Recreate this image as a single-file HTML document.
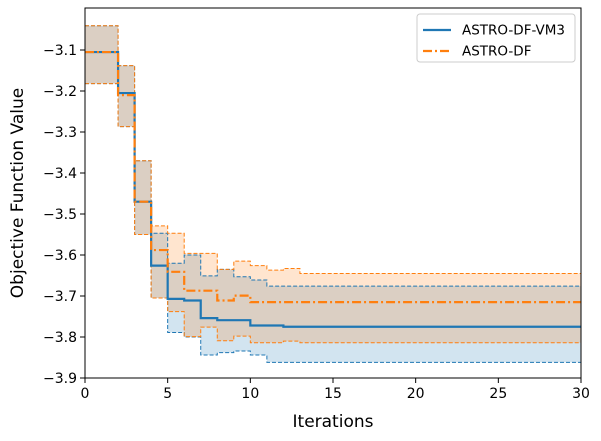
<!DOCTYPE html>
<html><head><meta charset="utf-8">
<style>
html,body{margin:0;padding:0;background:#fff;}
svg{display:block;font-family:"DejaVu Sans","Liberation Sans",sans-serif;}
</style></head>
<body>
<svg id="chart" width="601" height="441"></svg>
<script>
const iterations = Array.from({length:31},(_,i)=>i);
const blueMean  = [-3.105,-3.105,-3.205,-3.47,-3.626,-3.707,-3.711,-3.754,-3.759,-3.759,-3.772,-3.772,-3.775,-3.775,-3.775,-3.775,-3.775,-3.775,-3.775,-3.775,-3.775,-3.775,-3.775,-3.775,-3.775,-3.775,-3.775,-3.775,-3.775,-3.775];
const orangeMean= [-3.105,-3.105,-3.21,-3.47,-3.588,-3.641,-3.687,-3.687,-3.711,-3.699,-3.715,-3.715,-3.715,-3.715,-3.715,-3.715,-3.715,-3.715,-3.715,-3.715,-3.715,-3.715,-3.715,-3.715,-3.715,-3.715,-3.715,-3.715,-3.715,-3.715];
const blueUp    = [-3.041,-3.041,-3.138,-3.37,-3.547,-3.62,-3.60,-3.651,-3.635,-3.653,-3.661,-3.676,-3.676,-3.676,-3.676,-3.676,-3.676,-3.676,-3.676,-3.676,-3.676,-3.676,-3.676,-3.676,-3.676,-3.676,-3.676,-3.676,-3.676,-3.676];
const blueLow   = [-3.182,-3.182,-3.287,-3.55,-3.705,-3.789,-3.80,-3.844,-3.838,-3.834,-3.844,-3.862,-3.862,-3.862,-3.862,-3.862,-3.862,-3.862,-3.862,-3.862,-3.862,-3.862,-3.862,-3.862,-3.862,-3.862,-3.862,-3.862,-3.862,-3.862];
const orangeUp  = [-3.041,-3.041,-3.138,-3.37,-3.529,-3.547,-3.596,-3.596,-3.635,-3.615,-3.626,-3.637,-3.633,-3.645,-3.645,-3.645,-3.645,-3.645,-3.645,-3.645,-3.645,-3.645,-3.645,-3.645,-3.645,-3.645,-3.645,-3.645,-3.645,-3.645];
const orangeLow = [-3.182,-3.182,-3.287,-3.55,-3.705,-3.738,-3.799,-3.776,-3.809,-3.798,-3.814,-3.814,-3.810,-3.814,-3.814,-3.814,-3.814,-3.814,-3.814,-3.814,-3.814,-3.814,-3.814,-3.814,-3.814,-3.814,-3.814,-3.814,-3.814,-3.814];
const xTicks = [0,5,10,15,20,25,30];
const yTicks = [-3.1,-3.2,-3.3,-3.4,-3.5,-3.6,-3.7,-3.8,-3.9];

const L=85,R=581,T=8,B=378;
const X0=0,X1=30,Yref=-3.1;
function sx(v){return L+(v-X0)/(X1-X0)*(R-L);}
function sy(v){return 50+(Yref-v)/0.1*41;}
const NS="http://www.w3.org/2000/svg";
const svg=document.getElementById('chart');
function el(tag,attrs,parent){const e=document.createElementNS(NS,tag);for(const k in attrs)e.setAttribute(k,attrs[k]);(parent||svg).appendChild(e);return e;}

function stepPts(arr){let p=[];for(let i=0;i<arr.length;i++){p.push([sx(iterations[i]),sy(arr[i])]);p.push([sx(iterations[i+1]),sy(arr[i])]);}return p;}
function pathOf(pts){return 'M'+pts.map(p=>p[0].toFixed(2)+','+p[1].toFixed(2)).join('L');}
function bandPath(up,low){const a=stepPts(up),b=stepPts(low).reverse();return pathOf(a.concat(b))+'Z';}

const clip=el('clipPath',{id:'pc'});el('rect',{x:L,y:T,width:R-L,height:B-T},clip);
const g=el('g',{'clip-path':'url(#pc)'});

const bb=el('path',{d:bandPath(blueUp,blueLow),fill:'rgba(31,119,180,0.2)',stroke:'none'},g);


const ob=el('path',{d:bandPath(orangeUp,orangeLow),fill:'rgba(255,127,14,0.2)',stroke:'none'},g);


[[blueUp,'#1f77b4','blue-upper'],[blueLow,'#1f77b4','blue-lower'],[orangeUp,'#ff7f0e','orange-upper'],[orangeLow,'#ff7f0e','orange-lower']].forEach(s=>{
  const p=el('path',{d:pathOf(stepPts(s[0])),fill:'none',stroke:s[1],'stroke-width':1,'stroke-dasharray':'4,2'},g);
  
  
});
const bl=el('path',{d:pathOf(stepPts(blueMean)),fill:'none',stroke:'#1f77b4','stroke-width':2.2},g);


const ol=el('path',{d:pathOf(stepPts(orangeMean)),fill:'none',stroke:'#ff7f0e','stroke-width':2.2,'stroke-dasharray':'9,3,2,3'},g);



const frame=el('rect',{x:L,y:T,width:R-L,height:B-T,fill:'none',stroke:'#000','stroke-width':1});



xTicks.forEach(t=>{
  const x=sx(t);
  el('line',{x1:x,x2:x,y1:B,y2:B+5,stroke:'#000'});
  const tx=el('text',{x:x,y:B+20,'text-anchor':'middle','font-size':14});
  tx.textContent=t;
  
  
});
yTicks.forEach(t=>{
  const y=sy(t);
  el('line',{x1:L-5,x2:L,y1:y,y2:y,stroke:'#000'});
  const tx=el('text',{x:L-8,y:y+5,'text-anchor':'end','font-size':14});
  tx.textContent='\u2212'+Math.abs(t).toFixed(1);
  
  
});
const xt=el('text',{x:(L+R)/2,y:427,'text-anchor':'middle','font-size':17});
xt.textContent='Iterations';


const yt=el('text',{x:0,y:0,'text-anchor':'middle','font-size':17,transform:'translate(23,'+((T+B)/2)+') rotate(-90)'});
yt.textContent='Objective Function Value';



const lg=el('g',{});


el('rect',{x:417,y:14,width:158,height:48,rx:3,fill:'#fff','fill-opacity':0.85,stroke:'#ccc'},lg);
const e1=el('line',{x1:423,x2:451,y1:30,y2:30,stroke:'#1f77b4','stroke-width':2.2},lg);


const l1=el('text',{x:462,y:34.5,'font-size':13.5},lg);l1.textContent='ASTRO-DF-VM3';
const e2=el('line',{x1:423,x2:451,y1:51,y2:51,stroke:'#ff7f0e','stroke-width':2.2,'stroke-dasharray':'9,3,2,3'},lg);


const l2=el('text',{x:462,y:55.5,'font-size':13.5},lg);l2.textContent='ASTRO-DF';
</script>
</body></html>
